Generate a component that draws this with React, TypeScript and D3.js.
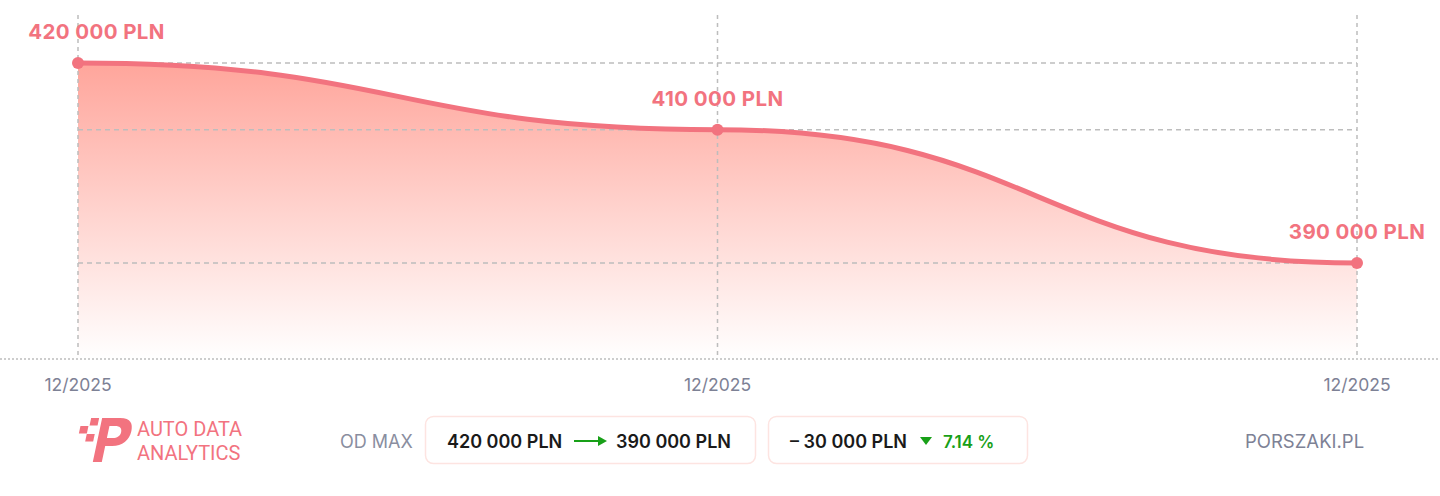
import React from "react";
import * as d3 from "d3";

const categories = ["12/2025", "12/2025", "12/2025"];
const prices = [420000, 410000, 390000];
const priceLabels = ["420 000 PLN", "410 000 PLN", "390 000 PLN"];
const summaryFrom = "420 000 PLN";
const summaryTo = "390 000 PLN";
const summaryDiff = "– 30 000 PLN";
const summaryPct = "7.14 %";

const W = 1440;
const H = 496;
const PINK = "#f2737f";
const GRID = "#bdbdbd";
const GRAY = "#7d8195";
const FONT = "Inter, 'Noto Sans', sans-serif";

export default function App() {
  const idx = categories.map((_, i) => i);
  const x = d3.scalePoint<number>().domain(idx).range([78, 1357]);
  const y = d3.scaleLinear().domain([375600, 420000]).range([359, 63]);
  const baseY = y(375600);

  const pts = prices.map((v, i) => [x(i)!, y(v)] as [number, number]);
  const line = d3.line().curve(d3.curveBumpX)(pts)!;
  const area = d3
    .area<[number, number]>()
    .x((d) => d[0])
    .y0(baseY)
    .y1((d) => d[1])
    .curve(d3.curveBumpX)(pts)!;

  const labelW = 137;

  return (
    <svg
      width={W}
      height={H}
      style={{ position: "absolute", left: 0, top: 0, fontFamily: FONT }}
    >
      <defs>
        <linearGradient id="areaGrad" gradientUnits="userSpaceOnUse" x1="0" y1={y(420000)} x2="0" y2={baseY}>
          <stop offset="0" stopColor="#ffa59b" />
          <stop offset="0.5" stopColor="#ffd3ce" />
          <stop offset="1" stopColor="#ffffff" />
        </linearGradient>
      </defs>

      <path d={area} fill="url(#areaGrad)" />

      {prices.map((v, i) => (
        <line
          key={"h" + i}
          x1={x(0)}
          x2={x(2)}
          y1={y(v)}
          y2={y(v)}
          stroke={GRID}
          strokeWidth={1.5}
          strokeDasharray="5,4"
        />
      ))}
      {idx.map((i) => (
        <line
          key={"v" + i}
          x1={x(i)}
          x2={x(i)}
          y1={15}
          y2={baseY}
          stroke={GRID}
          strokeWidth={1.5}
          strokeDasharray="4,4"
        />
      ))}
      <line x1={0} x2={W} y1={baseY} y2={baseY} stroke={GRID} strokeWidth={1.5} strokeDasharray="2,2" />

      <path d={line} fill="none" stroke={PINK} strokeWidth={5} strokeLinecap="round" />
      {pts.map((p, i) => (
        <circle key={"c" + i} cx={p[0]} cy={p[1]} r={6} fill={PINK} />
      ))}
      {pts.map((p, i) => {
        const cx = Math.max(28 + labelW / 2, p[0]);
        return (
          <text
            key={"l" + i}
            x={cx}
            y={p[1] - 24}
            textAnchor="middle"
            fill={PINK}
            fontSize={20.5}
            fontWeight={700}
            style={{ letterSpacing: "0.4px" }}
          >
            {priceLabels[i]}
          </text>
        );
      })}

      {categories.map((c, i) => (
        <text key={"x" + i} x={x(i)!} y={391} textAnchor="middle" fill={GRAY} fontSize={17.5}>
          {c}
        </text>
      ))}

      <g fill={PINK}>
        <g transform="skewX(-12)">
          <g transform="translate(92,0)">
            <rect x={88} y={418} width={8} height={7.5} />
            <rect x={79} y={426} width={8} height={7.5} />
            <rect x={87} y={434} width={8} height={7.5} />
            <path d="M99,418 H117 C128,418 131,424 131,431 C131,440 125,446 115,446 H108 V462 H99 Z M108,426 V438 H114 C118,438 121,436 121,432 C121,428 118,426 114,426 Z" fillRule="evenodd" />
          </g>
        </g>
        <text x={137} y={436} fontSize={20} fontFamily="'Roboto', sans-serif" fontWeight={400}>
          AUTO DATA
        </text>
        <text x={137} y={460} fontSize={20} fontFamily="'Roboto', sans-serif" fontWeight={400}>
          ANALYTICS
        </text>
      </g>

      <text x={340} y={447.5} fill="#8a8ea0" fontSize={18}>OD MAX</text>

      <rect x={425.5} y={416.5} width={330} height={47} rx={8} fill="#fff" stroke="#fde4e1" strokeWidth={1.5} />
      <text x={447} y={447.5} fill="#1a1a1a" fontSize={18} fontWeight={600}>{summaryFrom}</text>
      <line x1={574} x2={600} y1={441} y2={441} stroke="#18a018" strokeWidth={2} />
      <path d="M598,436 L607,441 L598,446 Z" fill="#18a018" />
      <text x={616} y={447.5} fill="#1a1a1a" fontSize={18} fontWeight={600}>{summaryTo}</text>

      <rect x={768.5} y={416.5} width={259} height={47} rx={8} fill="#fff" stroke="#fde4e1" strokeWidth={1.5} />
      <text x={790} y={447.5} fill="#1a1a1a" fontSize={18} fontWeight={600}>{summaryDiff}</text>
      <path d="M920,437 L932,437 L926,445 Z" fill="#18a018" />
      <text x={943} y={447.5} fill="#18a018" fontSize={17} fontWeight={600}>{summaryPct}</text>

      <text x={1245} y={447.5} fill="#7d8195" fontSize={18.5}>PORSZAKI.PL</text>
    </svg>
  );
}
